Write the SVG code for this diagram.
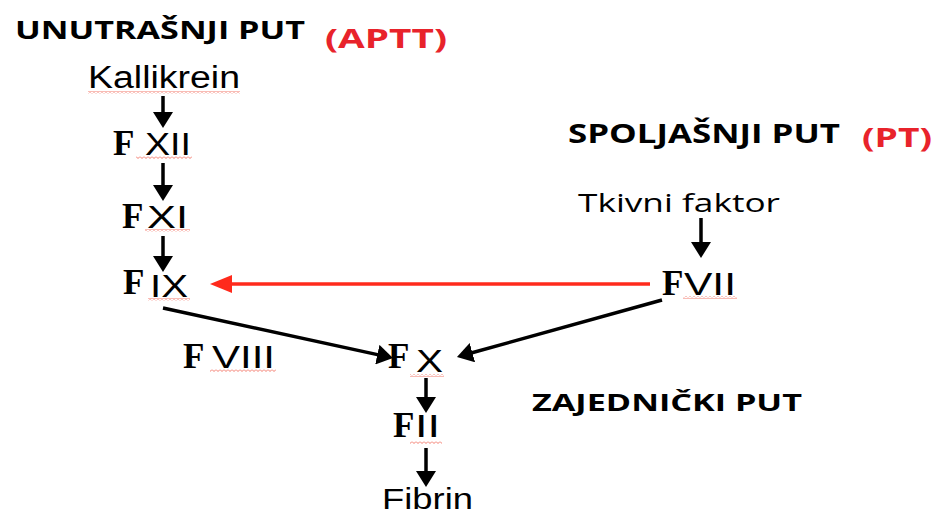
<svg xmlns="http://www.w3.org/2000/svg" width="935" height="515" viewBox="0 0 935 515">
<style>
.h{font-family:"Open Sans","Noto Sans","Liberation Sans",sans-serif;font-weight:bold;fill:#000}
.r{font-family:"Open Sans","Noto Sans","Liberation Sans",sans-serif;font-weight:bold;fill:#e8232b}
.t{font-family:"Open Sans","Noto Sans","Liberation Sans",sans-serif;fill:#000}
.s{font-family:"Liberation Sans",Arial,sans-serif;fill:#000}
.f{font-family:"Liberation Serif","Times New Roman",serif;font-weight:bold;font-size:35px;fill:#000}
.n{font-family:"Liberation Sans",Arial,sans-serif;font-size:32px;fill:#000}
.c{stroke:#000;stroke-width:3.5;fill:none}
.cr{stroke:#ff2a1c;stroke-width:3.5;fill:none}
.w{fill:url(#wave)}
</style>
<defs>
<marker id="ah" markerUnits="userSpaceOnUse" viewBox="0 0 16 20" markerWidth="16" markerHeight="20" refX="6" refY="10" orient="auto">
<path d="M0,0 L16,10 L0,20 z" fill="#000"/>
</marker>
<marker id="ahr" markerUnits="userSpaceOnUse" viewBox="0 0 22 18" markerWidth="22" markerHeight="18" refX="10" refY="9" orient="auto">
<path d="M0,0 L22,9 L0,18 z" fill="#ff2a1c"/>
</marker>
<pattern id="wave" patternUnits="userSpaceOnUse" width="4" height="3">
<path d="M0,0.5 L2,2.5 L4,0.5" stroke="#f26b5b" stroke-width="0.9" fill="none"/>
</pattern>
</defs>

<g id="labels">
<text class="h" x="15" y="39" font-size="25" textLength="290" lengthAdjust="spacingAndGlyphs">UNUTRAŠNJI PUT</text>
<text class="r" x="325" y="48" font-size="27" textLength="122" lengthAdjust="spacingAndGlyphs">(APTT)</text>
<text class="h" x="568" y="143" font-size="26" textLength="272" lengthAdjust="spacingAndGlyphs">SPOLJAŠNJI PUT</text>
<text class="r" x="862" y="147" font-size="27" textLength="70" lengthAdjust="spacingAndGlyphs">(PT)</text>
<text class="h" x="532" y="411" font-size="24" textLength="270" lengthAdjust="spacingAndGlyphs">ZAJEDNIČKI PUT</text>
</g>

<g id="kallikrein">
<text class="s" x="88" y="88" font-size="31" textLength="152" lengthAdjust="spacingAndGlyphs">Kallikrein</text>
<rect class="w" x="88" y="91" width="152" height="3"/>
</g>
<g id="fxii">
<text class="f" x="113" y="155">F</text>
<text class="n" x="145" y="155" textLength="46" lengthAdjust="spacingAndGlyphs">XII</text>
<rect class="w" x="136" y="156" width="56" height="3"/>
</g>
<g id="fxi">
<text class="f" x="122" y="228">F</text>
<text class="n" x="147" y="228" textLength="41" lengthAdjust="spacingAndGlyphs">XI</text>
<rect class="w" x="145" y="229" width="45" height="3"/>
</g>
<g id="fix">
<text class="f" x="123" y="294">F</text>
<text class="n" x="150" y="297" textLength="38" lengthAdjust="spacingAndGlyphs">IX</text>
<rect class="w" x="148" y="298" width="42" height="3"/>
</g>
<g id="tkivni">
<text class="t" x="578" y="212" font-size="26" textLength="202" lengthAdjust="spacingAndGlyphs">Tkivni faktor</text>
</g>
<g id="fvii">
<text class="f" x="662" y="295">F</text>
<text class="n" x="684" y="295" textLength="52" lengthAdjust="spacingAndGlyphs">VII</text>
<rect class="w" x="683" y="296" width="54" height="3"/>
</g>
<g id="fviii">
<text class="f" x="183" y="368">F</text>
<text class="n" x="212" y="368" textLength="63" lengthAdjust="spacingAndGlyphs">VIII</text>
<rect class="w" x="210" y="369" width="66" height="3"/>
</g>
<g id="fx">
<text class="f" x="388" y="368">F</text>
<text class="n" x="416" y="372" textLength="27" lengthAdjust="spacingAndGlyphs">X</text>
<rect class="w" x="410" y="374" width="34" height="3"/>
</g>
<g id="fii">
<text class="f" x="393" y="437">F</text>
<text class="n" x="415" y="437" textLength="25" lengthAdjust="spacingAndGlyphs">II</text>
<rect class="w" x="410" y="441" width="32" height="3"/>
</g>
<g id="fibrin">
<text class="s" x="382" y="509" font-size="29" textLength="91" lengthAdjust="spacingAndGlyphs">Fibrin</text>
</g>

<g id="connectors">
<line class="c" x1="163" y1="96" x2="163" y2="118" marker-end="url(#ah)"/>
<line class="c" x1="163" y1="163" x2="163" y2="191" marker-end="url(#ah)"/>
<line class="c" x1="163" y1="236" x2="163" y2="262" marker-end="url(#ah)"/>
<line class="c" x1="701" y1="218" x2="701" y2="248" marker-end="url(#ah)"/>
<line class="c" x1="426" y1="378" x2="426" y2="403" marker-end="url(#ah)"/>
<line class="c" x1="426" y1="448" x2="426" y2="477" marker-end="url(#ah)"/>
<line class="cr" x1="650" y1="284" x2="222" y2="284" marker-end="url(#ahr)"/>
<line class="c" x1="163" y1="308" x2="383.2" y2="355.9" marker-end="url(#ah)"/>
<line class="c" x1="662" y1="300" x2="466.6" y2="354.3" marker-end="url(#ah)"/>
</g>
</svg>
